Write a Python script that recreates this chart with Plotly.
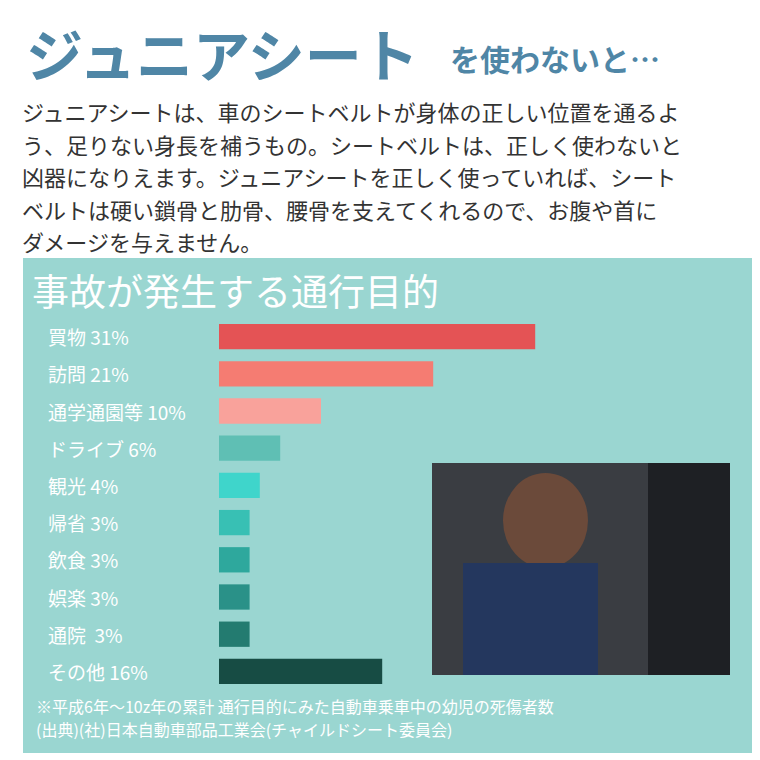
import plotly.graph_objects as go

labels = ["買物 31%", "訪問 21%", "通学通園等 10%", "ドライブ 6%", "観光 4%", "帰省 3%", "飲食 3%", "娯楽 3%", "通院  3%", "その他 16%"]
values = [31, 21, 10, 6, 4, 3, 3, 3, 3, 16]
colors = ["#e45355", "#f57c72", "#f9a29b", "#5fbfb4", "#3fd5cb", "#38c0b4", "#2ea89d", "#2a9188", "#237b70", "#174c44"]
cats = [f"c{i}" for i in range(len(labels))]

W = H = 760
def px(x): return x / W
def py(y): return 1 - y / H

fig = go.Figure(go.Bar(x=values, y=cats, orientation="h", marker=dict(color=colors, line=dict(width=0)),
                       hoverinfo="skip"))
fig.update_layout(
    width=W, height=H, margin=dict(l=0, r=0, t=0, b=0),
    paper_bgcolor="white", plot_bgcolor="rgba(0,0,0,0)", showlegend=False, bargap=0.32,
    xaxis=dict(domain=[px(211), 1], range=[0, 549 / 10.2], visible=False, fixedrange=True),
    yaxis=dict(domain=[py(682), py(310)], categoryorder="array", categoryarray=cats[::-1],
               visible=False, autorange=False, range=[-0.5, 9.5]),
    font=dict(family="Noto Sans CJK JP"),
)
shapes = [
    dict(type="rect", xref="paper", yref="paper", x0=px(15), x1=px(745), y0=py(745), y1=py(250),
         fillcolor="#9ad6d1", line=dict(width=0), layer="below"),
    dict(type="rect", xref="paper", yref="paper", x0=px(424), x1=px(722), y0=py(667), y1=py(455),
         fillcolor="#3a3d42", line=dict(width=0)),
    dict(type="rect", xref="paper", yref="paper", x0=px(640), x1=px(722), y0=py(667), y1=py(455),
         fillcolor="#1e2024", line=dict(width=0)),
    dict(type="circle", xref="paper", yref="paper", x0=px(495), x1=px(580), y0=py(560), y1=py(465),
         fillcolor="#6b4a3a", line=dict(width=0)),
    dict(type="rect", xref="paper", yref="paper", x0=px(455), x1=px(590), y0=py(667), y1=py(555),
         fillcolor="#24375e", line=dict(width=0)),
]
fig.update_layout(shapes=shapes)

ann = []
def t(x, y, s, size, color, bold=False, anchor="left"):
    ann.append(dict(xref="paper", yref="paper", x=px(x), y=py(y), text=f"<b>{s}</b>" if bold else s,
                    showarrow=False, xanchor=anchor, yanchor="middle",
                    font=dict(size=size, color=color, family="Noto Sans CJK JP")))

t(16, 44, "ジュニアシート", 57, "#4f86a6", True)
t(440, 50, "を使わないと…", 30, "#4f86a6", True)
para = ["ジュニアシートは、車のシートベルトが身体の正しい位置を通るよ",
        "う、足りない身長を補うもの。シートベルトは、正しく使わないと",
        "凶器になりえます。ジュニアシートを正しく使っていれば、シート",
        "ベルトは硬い鎖骨と肋骨、腰骨を支えてくれるので、お腹や首に",
        "ダメージを与えません。"]
for i, line in enumerate(para):
    t(12, 103 + i * 32.5, line, 22, "#333333")
t(22, 282, "事故が発生する通行目的", 37, "white")
for c, lab in zip(cats, labels):
    ann.append(dict(xref="paper", yref="y", x=px(38), y=c, text=lab, showarrow=False, xanchor="left",
                    font=dict(size=19, color="white", family="Noto Sans CJK JP")))
t(26, 698, "※平成6年～10z年の累計 通行目的にみた自動車乗車中の幼児の死傷者数", 16, "white")
t(26, 721, "(出典)(社)日本自動車部品工業会(チャイルドシート委員会)", 16, "white")
fig.update_layout(annotations=ann)
fig.write_html("out.html")
